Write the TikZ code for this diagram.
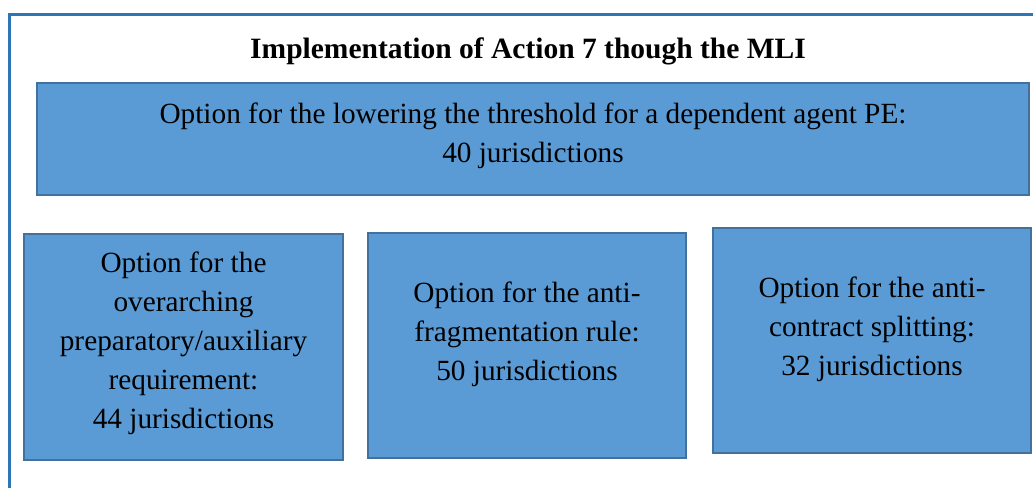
\documentclass[tikz,border=0pt]{standalone}
\usepackage{fontspec}
\setmainfont{Liberation Serif}
\definecolor{boxfill}{HTML}{5B9BD5}
\definecolor{boxline}{HTML}{41719C}
\definecolor{frameblue}{HTML}{2E75B6}
\begin{document}
\begin{tikzpicture}[x=1pt,y=-1pt,
  optbox/.style={draw=boxline, fill=boxfill, line width=2pt, inner sep=0pt, outer sep=0pt, anchor=north west},
  opttext/.style={align=center, font=\fontsize{29.3}{39}\selectfont, inner sep=0pt, text=black},
  frameline/.style={draw=frameblue, line width=3pt}]
\useasboundingbox (0,0) rectangle (1033,488);
% outer frame
\coordinate (fbl) at (9,488);
\coordinate (ftl) at (9,14);
\coordinate (ftr) at (1033,14);
\draw[frameline] (fbl) -- (ftl) -- (ftr);
% title
\node[font=\bfseries\fontsize{29.5}{33}\selectfont, inner sep=0pt] (title) at (528,51) {Implementation of Action 7 though the MLI};
% boxes
\node[optbox, minimum width=992pt, minimum height=112pt] (topbox) at (37,83) {};
\node[optbox, minimum width=319pt, minimum height=226pt] (box1) at (24,234) {};
\node[optbox, minimum width=318pt, minimum height=225pt] (box2) at (368,233) {};
\node[optbox, minimum width=318pt, minimum height=225pt] (box3) at (713,228) {};
% texts
\node[opttext] (toptext) at (533,136) {Option for the lowering the threshold for a dependent agent PE:\\40 jurisdictions};
\node[opttext] (text1) at (183.5,343) {Option for the\\overarching\\preparatory/auxiliary\\requirement:\\44 jurisdictions};
\node[opttext] (text2) at (527,334) {Option for the anti-\\fragmentation rule:\\50 jurisdictions};
\node[opttext] (text3) at (872,329) {Option for the anti-\\contract splitting:\\32 jurisdictions};
\end{tikzpicture}
\end{document}
